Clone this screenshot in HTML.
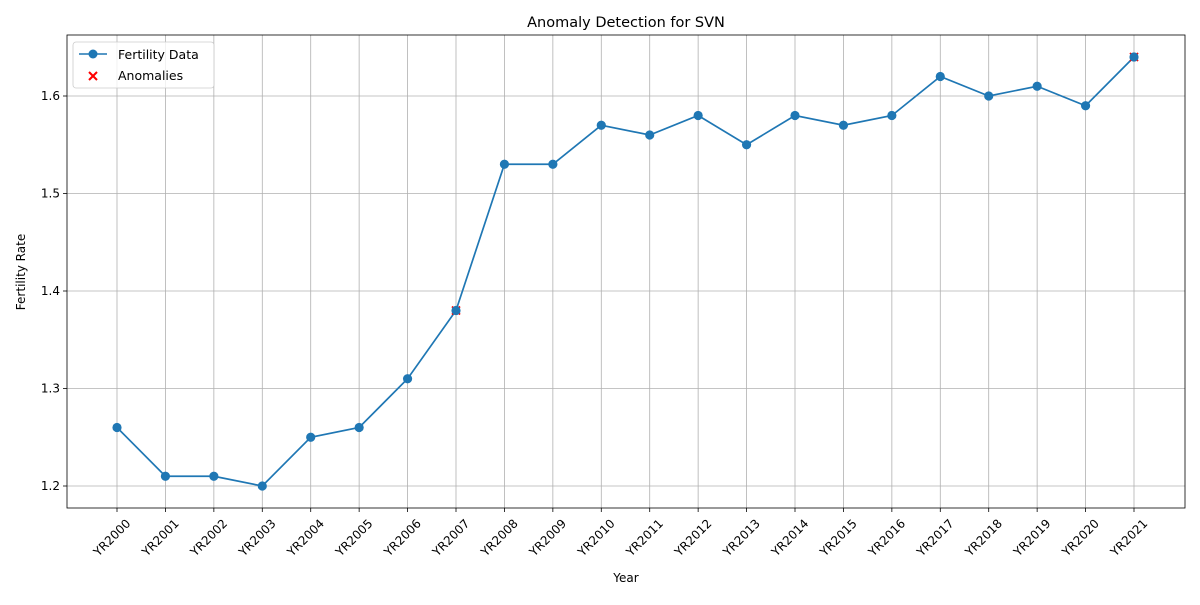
<!DOCTYPE html>
<html><head><meta charset="utf-8"><style>
body{margin:0;background:#fff;font-family:"Liberation Sans","DejaVu Sans",sans-serif}
</style></head><body>
<svg id="c" width="1200" height="600" xmlns="http://www.w3.org/2000/svg" style="font-family:'DejaVu Sans','Liberation Sans',sans-serif"></svg>
<script>
const categories=["YR2000","YR2001","YR2002","YR2003","YR2004","YR2005","YR2006","YR2007","YR2008","YR2009","YR2010","YR2011","YR2012","YR2013","YR2014","YR2015","YR2016","YR2017","YR2018","YR2019","YR2020","YR2021"];
const fertility=[1.26,1.21,1.21,1.20,1.25,1.26,1.31,1.38,1.53,1.53,1.57,1.56,1.58,1.55,1.58,1.57,1.58,1.62,1.60,1.61,1.59,1.64];
const anomalyIdx=[7,21];
const yTicks=[1.2,1.3,1.4,1.5,1.6];
const yTickLabels=["1.2","1.3","1.4","1.5","1.6"];

const svg=document.getElementById('c');
const NS="http://www.w3.org/2000/svg";
const L=67,R=1185,T=35,B=508;
const x=i=>117+i*(1134-117)/21;
const y=v=>486-(v-1.2)*975;
function mk(tag,attrs,parent){const e=document.createElementNS(NS,tag);for(const k in attrs)e.setAttribute(k,attrs[k]);(parent||svg).appendChild(e);return e;}

const grid=mk('g',{});


categories.forEach((c,i)=>mk('line',{x1:x(i),x2:x(i),y1:T,y2:B,stroke:'#b0b0b0','stroke-width':0.8},grid));
yTicks.forEach(v=>mk('line',{x1:L,x2:R,y1:y(v),y2:y(v),stroke:'#b0b0b0','stroke-width':0.8},grid));

const xa=mk('g',{});


categories.forEach((c,i)=>{
  mk('line',{x1:x(i),x2:x(i),y1:B,y2:B+4,stroke:'#000','stroke-width':0.8},xa);
  const t=mk('text',{x:0,y:0,'font-size':12,'text-anchor':'end',transform:`translate(${x(i)+8},${B+10}) rotate(-45)`,'dominant-baseline':'hanging'},xa);
  t.textContent=c;
  
  
});
const ya=mk('g',{});


yTicks.forEach((v,i)=>{
  mk('line',{x1:L-4,x2:L,y1:y(v),y2:y(v),stroke:'#000','stroke-width':0.8},ya);
  const t=mk('text',{x:L-7,y:y(v)+4,'font-size':12,'text-anchor':'end'},ya);
  t.textContent=yTickLabels[i];
  
  
});

const line=mk('polyline',{points:fertility.map((v,i)=>x(i)+','+y(v)).join(' '),fill:'none',stroke:'#1f77b4','stroke-width':1.7});


anomalyIdx.forEach(i=>{
  const g=mk('g',{stroke:'red','stroke-width':1.8});
  
  
  const cx=x(i),cy=y(fertility[i]);
  mk('line',{x1:cx-4,y1:cy-4,x2:cx+4,y2:cy+4},g);
  mk('line',{x1:cx-4,y1:cy+4,x2:cx+4,y2:cy-4},g);
});
fertility.forEach((v,i)=>{
  const p=mk('circle',{cx:x(i),cy:y(v),r:4.6,fill:'#1f77b4'});
  
  
});

const fr=mk('rect',{x:L,y:T,width:R-L,height:B-T,fill:'none',stroke:'#000','stroke-width':0.8});



let t=mk('text',{x:626,y:27,'font-size':14.5,'text-anchor':'middle'});t.textContent='Anomaly Detection for SVN';

t=mk('text',{x:626,y:582,'font-size':12,'text-anchor':'middle'});t.textContent='Year';

t=mk('text',{x:0,y:0,'font-size':12,'text-anchor':'middle',transform:'translate(25,272) rotate(-90)'});t.textContent='Fertility Rate';


const lg=mk('g',{});


mk('rect',{x:73,y:42,width:141,height:46,rx:3,fill:'#fff','fill-opacity':0.8,stroke:'#ccc','stroke-width':0.8},lg);
mk('line',{x1:79,x2:107,y1:54,y2:54,stroke:'#1f77b4','stroke-width':1.5},lg);
mk('circle',{cx:93,cy:54,r:4.5,fill:'#1f77b4'},lg);
let lt=mk('text',{x:118,y:59,'font-size':12.5},lg);lt.textContent='Fertility Data';

const lx=mk('g',{stroke:'red','stroke-width':2},lg);
mk('line',{x1:89,y1:72,x2:97,y2:80},lx);mk('line',{x1:89,y1:80,x2:97,y2:72},lx);
lt=mk('text',{x:118,y:80,'font-size':12.5},lg);lt.textContent='Anomalies';

</script>
</body></html>
